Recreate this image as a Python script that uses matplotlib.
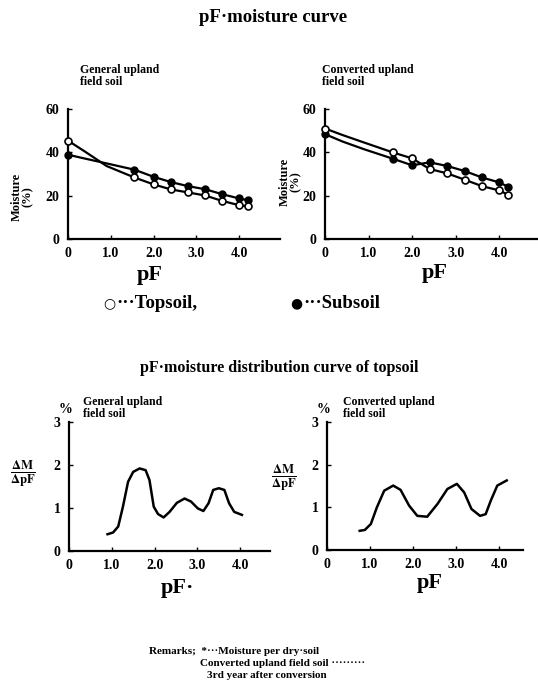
import matplotlib
matplotlib.use('Agg')
import matplotlib.pyplot as plt

# pF-moisture curve data
pf_top = [0, 0.4, 0.9, 1.55, 2.0, 2.4, 2.8, 3.2, 3.6, 4.0, 4.2]
marker_idx = [0, 3, 4, 5, 6, 7, 8, 9, 10]

gen_topsoil = [45.4, 40.3, 33.7, 28.4, 25.2, 22.9, 21.5, 20.1, 17.6, 15.6, 15.1]
gen_subsoil = [38.9, 37.1, 34.9, 32.0, 28.7, 26.3, 24.4, 23.0, 20.7, 18.7, 17.9]

conv_topsoil = [51.0, 48.0, 44.5, 40.0, 37.2, 32.3, 30.3, 27.4, 24.4, 22.4, 20.4]
conv_subsoil = [48.4, 45.0, 41.4, 37.1, 34.0, 35.4, 33.7, 31.4, 28.4, 26.1, 24.1]

# pF-moisture distribution curve of topsoil
gen_dist_pf = [0.90, 1.03, 1.15, 1.26, 1.38, 1.50, 1.65, 1.79, 1.88, 1.98, 2.08, 2.21,
               2.35, 2.52, 2.70, 2.85, 3.01, 3.14, 3.26, 3.37, 3.50, 3.63, 3.74, 3.86, 4.04]
gen_dist = [0.39, 0.43, 0.57, 1.03, 1.61, 1.84, 1.92, 1.88, 1.65, 1.03, 0.86, 0.78,
            0.91, 1.12, 1.22, 1.15, 0.99, 0.93, 1.11, 1.42, 1.46, 1.42, 1.11, 0.91, 0.84]

conv_dist_pf = [0.76, 0.88, 1.02, 1.16, 1.33, 1.54, 1.71, 1.91, 2.10, 2.33, 2.57, 2.80,
                3.02, 3.19, 3.36, 3.56, 3.69, 3.81, 3.96, 4.18]
conv_dist = [0.45, 0.47, 0.61, 1.00, 1.39, 1.51, 1.41, 1.04, 0.80, 0.78, 1.08, 1.43,
             1.55, 1.35, 0.96, 0.80, 0.84, 1.16, 1.51, 1.63]

x_ticks = [0, 1, 2, 3, 4]
x_labels = ['0', '1.0', '2.0', '3.0', '4.0']

W, H = 538, 692
plt.rcParams['font.family'] = 'Liberation Serif'
plt.rcParams['font.weight'] = 'bold'
plt.rcParams['mathtext.fontset'] = 'stix'

fig = plt.figure(figsize=(W / 100, H / 100), dpi=100)
fig.patch.set_facecolor('white')


def px_axes(x0, y_top, x1, y_bot):
    return fig.add_axes([x0 / W, 1 - y_bot / H, (x1 - x0) / W, (y_bot - y_top) / H])


def ftext(x, y, s, **kw):
    kw.setdefault('ha', 'left')
    kw.setdefault('va', 'center')
    kw.setdefault('fontweight', 'bold')
    fig.text(x / W, 1 - y / H, s, **kw)


def style(ax, xmax, ymax, yticks):
    for side in ['top', 'right']:
        ax.spines[side].set_visible(False)
    for side in ['left', 'bottom']:
        ax.spines[side].set_linewidth(1.6)
        ax.spines[side].set_color('black')
    ax.set_xlim(0, xmax)
    ax.set_ylim(0, ymax)
    ax.set_xticks(x_ticks)
    ax.set_xticklabels(x_labels)
    ax.set_yticks(yticks)
    ax.tick_params(direction='in', length=3, width=1, labelsize=10, pad=6)
    for lab in ax.get_xticklabels() + ax.get_yticklabels():
        lab.set_fontweight('bold')


def moisture_panel(ax, top, sub):
    ax.plot(pf_top, sub, color='black', lw=1.6, marker='o', ms=5,
            mfc='black', mec='black', markevery=marker_idx, clip_on=False)
    ax.plot(pf_top, top, color='black', lw=1.6, marker='o', ms=5,
            mfc='white', mec='black', mew=1.2, markevery=marker_idx, clip_on=False, zorder=3)


# top panels
ax1 = px_axes(68, 109, 280, 239)
moisture_panel(ax1, gen_topsoil, gen_subsoil)
style(ax1, 212 / 42.8, 60, [0, 20, 40, 60])

ax2 = px_axes(325, 109, 538, 239)
moisture_panel(ax2, conv_topsoil, conv_subsoil)
style(ax2, 213 / 43.6, 60, [0, 20, 40, 60])

# bottom panels
ax3 = px_axes(69, 422, 270, 551)
ax3.plot(gen_dist_pf, gen_dist, color='black', lw=1.8)
style(ax3, 201 / 42.8, 3, [0, 1, 2, 3])

ax4 = px_axes(327, 422, 523, 550)
ax4.plot(conv_dist_pf, conv_dist, color='black', lw=1.8)
style(ax4, 196 / 43.0, 3, [0, 1, 2, 3])

# titles and labels
ftext(273, 18, 'pF·moisture curve', ha='center', fontsize=13.5)
ftext(80, 70, 'General upland', fontsize=8.5)
ftext(80, 82, 'field soil', fontsize=8.5)
ftext(322, 70, 'Converted upland', fontsize=8.5)
ftext(322, 82, 'field soil', fontsize=8.5)

ftext(22, 197, 'Moisture\n(%)', ha='center', rotation=90, fontsize=9, linespacing=0.85)
ftext(290, 182, 'Moisture\n(%)', ha='center', rotation=90, fontsize=9, linespacing=0.85)
ftext(150, 275, 'pF', ha='center', fontsize=16)
ftext(435, 273, 'pF', ha='center', fontsize=16)

ftext(103, 303, '○', fontsize=10, family='DejaVu Sans')
ftext(116, 303, '···Topsoil,', fontsize=13.5)
ftext(290, 303, '●', fontsize=10, family='DejaVu Sans')
ftext(303, 303, '···Subsoil', fontsize=13.5)

ftext(279, 368, 'pF·moisture distribution curve of topsoil', ha='center', fontsize=11.5)
ftext(83, 402, 'General upland', fontsize=8.5)
ftext(83, 414, 'field soil', fontsize=8.5)
ftext(65, 410, '%', ha='center', fontsize=10)
ftext(343, 402, 'Converted upland', fontsize=8.5)
ftext(343, 414, 'field soil', fontsize=8.5)
ftext(323, 410, '%', ha='center', fontsize=10)

ftext(23, 474, r'$\frac{\mathbf{\Delta M}}{\mathbf{\Delta pF}}$', ha='center', fontsize=13)
ftext(284, 478, r'$\frac{\mathbf{\Delta M}}{\mathbf{\Delta pF}}$', ha='center', fontsize=13)
ftext(177, 588, 'pF·', ha='center', fontsize=16)
ftext(430, 583, 'pF', ha='center', fontsize=16)

ftext(149, 651, 'Remarks;  *···Moisture per dry·soil', fontsize=8)
ftext(200, 663, 'Converted upland field soil ·········', fontsize=8)
ftext(207, 675, '3rd year after conversion', fontsize=8)

fig.savefig('out.png', dpi=100, facecolor='white')
